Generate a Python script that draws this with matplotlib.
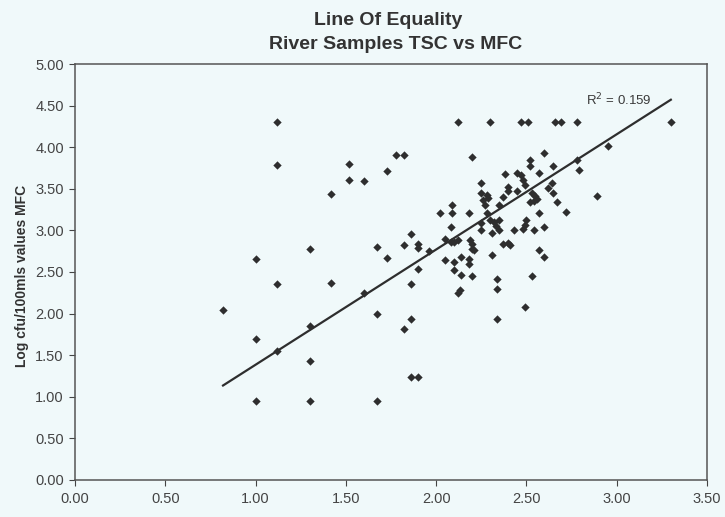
import numpy as np
import matplotlib
matplotlib.use('Agg')
import matplotlib.pyplot as plt

plt.rcParams['font.family'] = ['Liberation Sans', 'DejaVu Sans']

# log10 counts, TSC (x) vs MFC (y)
tsc = [
    0.82, 1.00, 1.00, 1.00, 1.12, 1.12, 1.12, 1.12, 1.30, 1.30, 1.30, 1.30,
    1.42, 1.42, 1.52, 1.52, 1.60, 1.60, 1.67, 1.67, 1.67, 1.73, 1.73,
    1.78, 1.82, 1.82, 1.82, 1.86, 1.86, 1.86, 1.86, 1.90, 1.90, 1.90, 1.90, 1.96,
    2.12, 2.30, 2.47, 2.51, 2.66, 2.69, 2.78, 3.30,
    2.20, 2.60, 2.95, 2.78, 2.79, 2.89,
    2.52, 2.52, 2.65, 2.57,
    2.38, 2.45, 2.47, 2.48, 2.49,
    2.40, 2.40, 2.45, 2.25,
    2.25, 2.28, 2.26, 2.29, 2.27, 2.37, 2.35,
    2.53, 2.55, 2.54, 2.56, 2.52,
    2.64, 2.62, 2.65, 2.67, 2.72, 2.57,
    2.09, 2.09, 2.02, 2.18,
    2.28, 2.30, 2.32, 2.35, 2.25, 2.33,
    2.08, 2.25, 2.31, 2.35,
    2.43, 2.50, 2.49, 2.48, 2.54, 2.60,
    2.05, 2.08, 2.10, 2.12,
    2.19, 2.20, 2.20, 2.21,
    2.37, 2.40, 2.41, 2.31,
    2.05, 2.10, 2.10, 2.14, 2.18, 2.18,
    2.14, 2.20, 2.12, 2.13,
    2.34, 2.34, 2.34,
    2.53, 2.57, 2.60, 2.49,
]
mfc = [
    2.04, 2.66, 1.69, 0.95, 4.30, 3.79, 2.36, 1.55, 2.78, 1.85, 1.43, 0.95,
    3.44, 2.37, 3.80, 3.61, 3.59, 2.25, 2.80, 2.00, 0.95, 3.71, 2.67,
    3.91, 3.91, 2.83, 1.81, 2.96, 2.36, 1.94, 1.24, 2.84, 2.79, 2.53, 1.24, 2.75,
    4.30, 4.30, 4.30, 4.30, 4.30, 4.30, 4.30, 4.30,
    3.88, 3.93, 4.01, 3.85, 3.73, 3.41,
    3.85, 3.77, 3.78, 3.69,
    3.68, 3.69, 3.66, 3.60, 3.55,
    3.52, 3.47, 3.47, 3.57,
    3.45, 3.43, 3.36, 3.39, 3.31, 3.40, 3.31,
    3.45, 3.41, 3.35, 3.38, 3.34,
    3.57, 3.51, 3.45, 3.34, 3.22, 3.21,
    3.31, 3.21, 3.21, 3.21,
    3.21, 3.12, 3.10, 3.12, 3.09, 3.05,
    3.04, 3.00, 2.97, 3.00,
    3.00, 3.12, 3.06, 3.02, 3.00, 3.04,
    2.90, 2.86, 2.86, 2.88,
    2.88, 2.84, 2.78, 2.76,
    2.84, 2.85, 2.82, 2.71,
    2.64, 2.62, 2.52, 2.68, 2.66, 2.60,
    2.46, 2.45, 2.25, 2.28,
    2.41, 2.29, 1.94,
    2.45, 2.76, 2.68, 2.08,
]

trend_slope = 1.385   # trendline forced through the origin
r_squared = 0.159

x_ticks = [0.0, 0.5, 1.0, 1.5, 2.0, 2.5, 3.0, 3.5]
y_ticks = [0.0, 0.5, 1.0, 1.5, 2.0, 2.5, 3.0, 3.5, 4.0, 4.5, 5.0]

bg = '#f0f9fa'
ink = '#2e2e2e'

fig = plt.figure(figsize=(7.25, 5.17), dpi=100, facecolor=bg)
ax = fig.add_axes([0.1034, 0.0716, 0.8717, 0.8046], facecolor=bg)

ax.scatter(tsc, mfc, marker='D', s=18, color=ink, linewidths=0, zorder=3)

xl = np.array([min(tsc), max(tsc)])
ax.plot(xl, trend_slope * xl, color=ink, lw=1.6, zorder=2)

ax.text(2.83, 4.57, 'R$^2$ = %.3f' % r_squared, fontsize=9.5, color='#3a3a3a',
        ha='left', va='center', zorder=4)

ax.set_xlim(0, 3.5)
ax.set_ylim(0, 5)
ax.set_xticks(x_ticks)
ax.set_yticks(y_ticks)
ax.set_xticklabels(['%.2f' % v for v in x_ticks])
ax.set_yticklabels(['%.2f' % v for v in y_ticks])
ax.tick_params(axis='both', labelsize=10.5, colors='#444444', length=4, width=0.8,
               direction='out')
ax.tick_params(axis='x', pad=5)
ax.tick_params(axis='y', pad=4)

for side in ['left', 'bottom', 'top', 'right']:
    ax.spines[side].set_color('#555555')
    ax.spines[side].set_linewidth(1.1)

ax.set_ylabel('Log cfu/100mls values MFC', fontsize=10, fontweight='bold',
              color='#333333')
ax.yaxis.set_label_coords(-0.073, 0.49)

fig.text(0.535, 0.961, 'Line Of Equality', ha='center', va='center',
         fontsize=14, fontweight='bold', color='#333333')
fig.text(0.545, 0.914, 'River Samples TSC vs MFC', ha='center', va='center',
         fontsize=14, fontweight='bold', color='#333333')

plt.savefig('out.png', dpi=100, facecolor=bg)
plt.close()
